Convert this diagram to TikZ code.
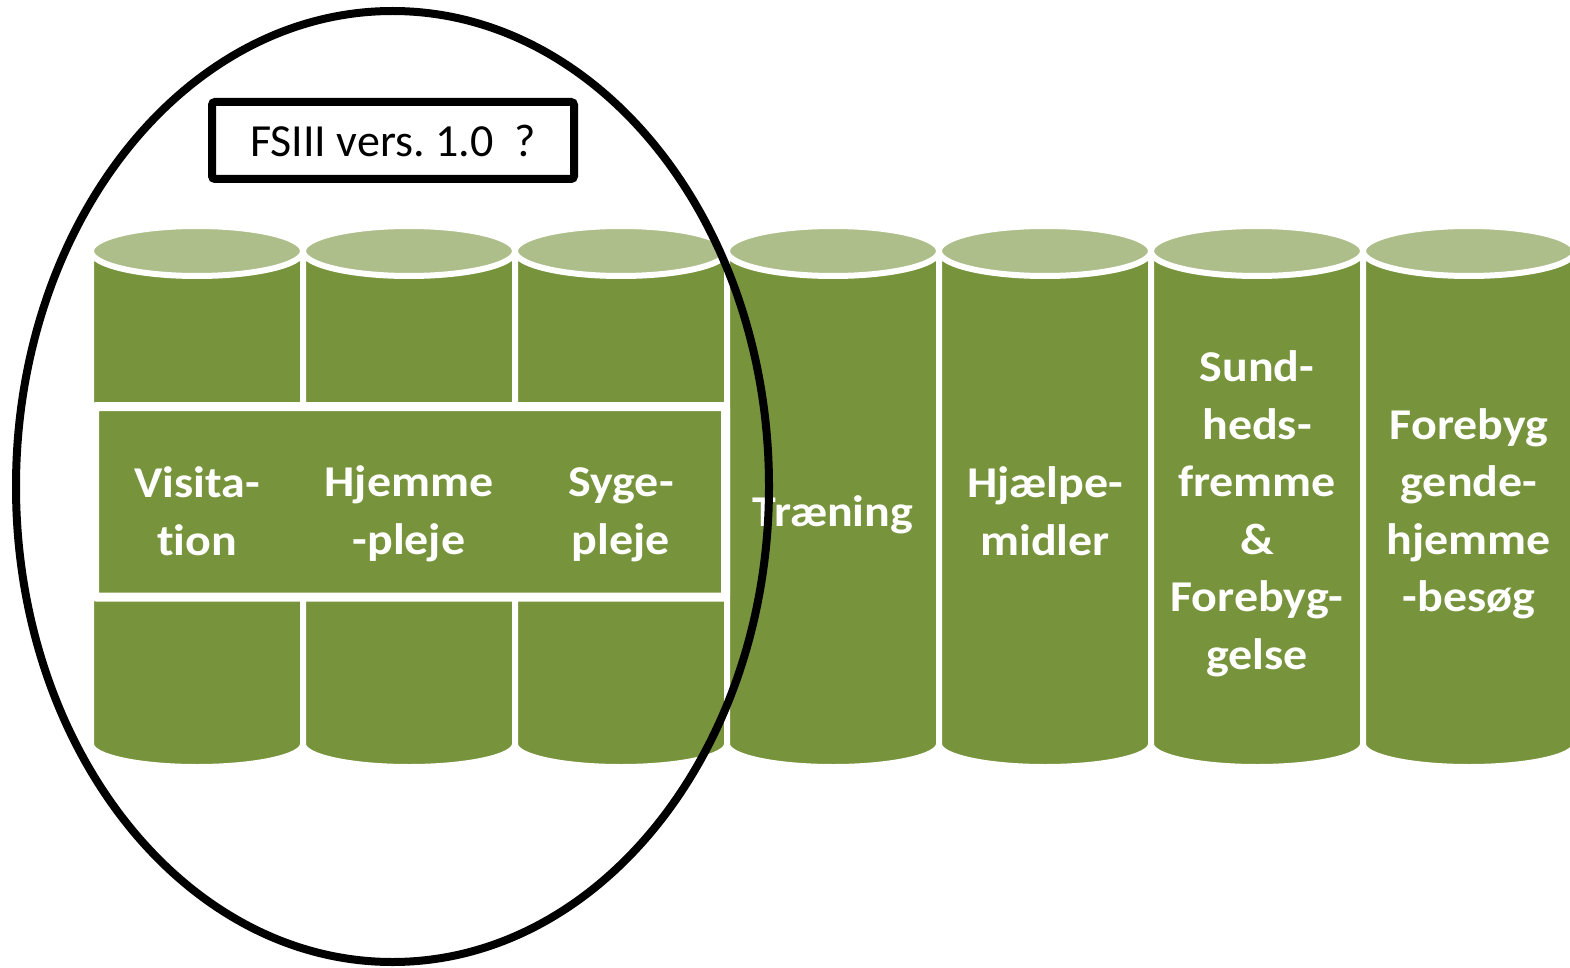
\documentclass[tikz,border=0pt]{standalone}
\usepackage{fontspec}
\setmainfont{Carlito}
\newfontfamily\labelfont{Carlito}[FakeStretch=1.09, Ligatures=NoCommon]
\usepackage{tikz}
\frenchspacing

\definecolor{olive}{RGB}{119,147,60}
\definecolor{lidgreen}{RGB}{174,190,139}

\begin{document}
\begin{tikzpicture}[x=1pt, y=1pt,
    body/.style={fill=olive, draw=white, line width=6pt},
    lid/.style={fill=lidgreen, draw=white, line width=6pt},
    label/.style={text=white, align=center, font=\fontsize{44}{57.5}\labelfont\bfseries}]
            \useasboundingbox (0,0) rectangle (1570,-968);

            % cylinders
            \draw[body] (91,-251) -- (91,-744) arc[start angle=180, end angle=360, x radius=106pt, y radius=23pt] -- (303,-251) arc[start angle=0, end angle=180, x radius=106pt, y radius=25pt];
            \draw[lid] (197,-251) ellipse [x radius=106pt, y radius=25pt];
            \draw[body] (303,-251) -- (303,-744) arc[start angle=180, end angle=360, x radius=106pt, y radius=23pt] -- (515,-251) arc[start angle=0, end angle=180, x radius=106pt, y radius=25pt];
            \draw[lid] (409,-251) ellipse [x radius=106pt, y radius=25pt];
            \draw[body] (515,-251) -- (515,-744) arc[start angle=180, end angle=360, x radius=106pt, y radius=23pt] -- (727,-251) arc[start angle=0, end angle=180, x radius=106pt, y radius=25pt];
            \draw[lid] (621,-251) ellipse [x radius=106pt, y radius=25pt];
            \draw[body] (727,-251) -- (727,-744) arc[start angle=180, end angle=360, x radius=106pt, y radius=23pt] -- (939,-251) arc[start angle=0, end angle=180, x radius=106pt, y radius=25pt];
            \draw[lid] (833,-251) ellipse [x radius=106pt, y radius=25pt];
            \draw[body] (939,-251) -- (939,-744) arc[start angle=180, end angle=360, x radius=106pt, y radius=23pt] -- (1151,-251) arc[start angle=0, end angle=180, x radius=106pt, y radius=25pt];
            \draw[lid] (1045,-251) ellipse [x radius=106pt, y radius=25pt];
            \draw[body] (1151,-251) -- (1151,-744) arc[start angle=180, end angle=360, x radius=106pt, y radius=23pt] -- (1363,-251) arc[start angle=0, end angle=180, x radius=106pt, y radius=25pt];
            \draw[lid] (1257,-251) ellipse [x radius=106pt, y radius=25pt];
            \draw[body] (1363,-251) -- (1363,-744) arc[start angle=180, end angle=360, x radius=106pt, y radius=23pt] -- (1575,-251) arc[start angle=0, end angle=180, x radius=106pt, y radius=25pt];
            \draw[lid] (1469,-251) ellipse [x radius=106pt, y radius=25pt];

            % band across the first three
            \draw[fill=olive, draw=white, line width=9pt, rounded corners=2pt] (94.5,-406.5) rectangle (725.5,-597);

            \node[label] (visitation) at (197,-511) {Visita-\\tion};
            \node[label] (hjemmepleje) at (409,-514) {Hjemme\\-pleje};
            \node[label] (sygepleje) at (621,-515) {Syge-\\pleje};
            \node[label] (traening) at (833,-515) {Træning};
            \node[label] (hjaelpemidler) at (1045,-511) {Hjælpe-\\midler};
            \node[label] (sundhed) at (1257,-514) {Sund-\\heds-\\fremme\\\&\\Forebyg-\\gelse};
            \node[label] (forebyg) at (1469,-514) {Forebyg\\gende-\\hjemme\\-besøg};

            \draw[line width=8pt] (392.5,-486.5) ellipse [x radius=376.5pt, y radius=475.5pt];

            \node[draw, fill=white, line width=8pt, rounded corners=3pt, minimum width=362pt, minimum height=77pt, font=\fontsize{46}{55}\selectfont] (version) at (393,-140.5) {FSIII vers. 1.0\ \ ?};
        \end{tikzpicture}
\end{document}
